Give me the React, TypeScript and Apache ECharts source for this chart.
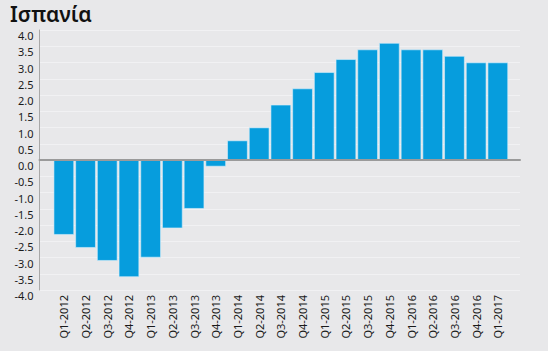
import React, { useEffect, useRef } from "react";
import * as echarts from "echarts";

const title = "Ισπανία";
const categories = [
  "Q1-2012", "Q2-2012", "Q3-2012", "Q4-2012",
  "Q1-2013", "Q2-2013", "Q3-2013", "Q4-2013",
  "Q1-2014", "Q2-2014", "Q3-2014", "Q4-2014",
  "Q1-2015", "Q2-2015", "Q3-2015", "Q4-2015",
  "Q1-2016", "Q2-2016", "Q3-2016", "Q4-2016",
  "Q1-2017",
];
const values = [
  -2.3, -2.7, -3.1, -3.6,
  -3.0, -2.1, -1.5, -0.2,
  0.6, 1.0, 1.7, 2.2,
  2.7, 3.1, 3.4, 3.6,
  3.4, 3.4, 3.2, 3.0,
  3.0,
];
const yMin = -4;
const yMax = 4;
const yStep = 0.5;

export default function App() {
  const ref = useRef<HTMLDivElement>(null);
  useEffect(() => {
    if (!ref.current) return;
    const chart = echarts.init(ref.current, null, { renderer: "svg" });
    const font = "'Noto Sans', sans-serif";
    chart.setOption({
      animation: false,
      backgroundColor: "#e8e8ea",
      title: {
        text: title,
        left: 10,
        top: 2,
        padding: 0,
        textStyle: { fontFamily: font, fontSize: 21, fontWeight: 600, color: "#111", lineHeight: 24 },
      },
      grid: [
        { left: 53, right: 39.3, top: 30, bottom: 61 },
        { left: 39.5, right: 28, top: 30, bottom: 61 },
      ],
      xAxis: [
        {
          type: "category",
          gridIndex: 0,
          data: categories,
          axisLine: { show: false },
          axisTick: { show: false },
          axisLabel: {
            rotate: 90,
            margin: 5,
            interval: 0,
            fontFamily: font,
            fontSize: 11,
            color: "#1a1a1a",
          },
        },
        {
          type: "value",
          gridIndex: 1,
          min: 0,
          max: 1,
          z: 5,
          axisLine: { show: true, onZero: true, lineStyle: { color: "#9a9a9a", width: 2 } },
          axisTick: { show: false },
          axisLabel: { show: false },
          splitLine: { show: false },
        },
      ],
      yAxis: [
        {
          type: "value",
          gridIndex: 0,
          min: yMin,
          max: yMax,
          interval: yStep,
          show: false,
          splitLine: { show: false },
        },
        {
          type: "value",
          gridIndex: 1,
          min: yMin,
          max: yMax,
          interval: yStep,
          axisLine: { show: true, lineStyle: { color: "#a8a8a8", width: 1 } },
          axisTick: { show: false },
          axisLabel: {
            formatter: (v: number) => v.toFixed(1),
            fontFamily: font,
            fontSize: 11,
            color: "#1a1a1a",
            margin: 6,
            verticalAlign: "top",
          },
          splitLine: { show: true, lineStyle: { color: "#f1f1f3", width: 1 } },
        },
      ],
      series: [
        {
          type: "bar",
          xAxisIndex: 0,
          yAxisIndex: 0,
          data: values,
          barCategoryGap: "6%",
          itemStyle: { color: "#069ddd", borderColor: "#d6eefa", borderWidth: 0.6 },
        },
      ],
    });
    return () => chart.dispose();
  }, []);
  return (
    <div
      ref={ref}
      style={{ position: "fixed", left: 0, top: 0, width: 548, height: 351 }}
    />
  );
}
